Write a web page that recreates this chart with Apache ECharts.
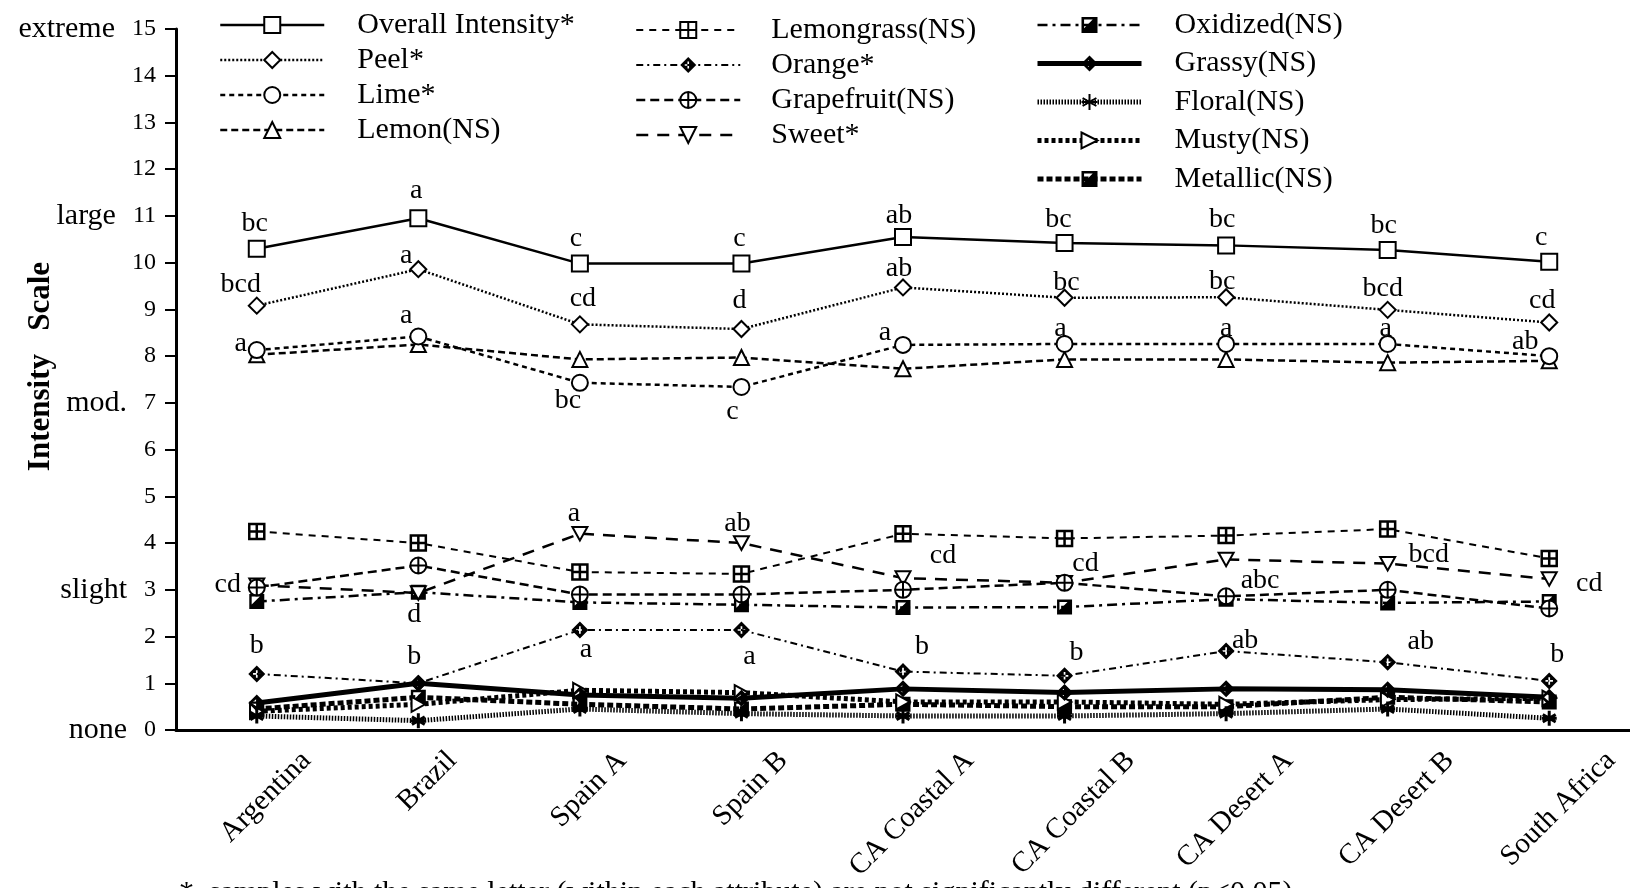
<!DOCTYPE html>
<html><head><meta charset="utf-8">
<script src="https://cdn.jsdelivr.net/npm/echarts@6/dist/echarts.min.js"></script>
<style>html,body{margin:0;padding:0;background:#fff}#c{width:1630px;height:888px}</style>
</head><body><div id="c"></div>
<script>
// ---------- DATA ----------
const categories = ['Argentina','Brazil','Spain A','Spain B','CA Coastal A','CA Coastal B','CA Desert A','CA Desert B','South Africa'];
const overall    = [10.3, 10.95, 9.98, 9.98, 10.55, 10.42, 10.37, 10.27, 10.02];
const peel       = [9.08, 9.86, 8.68, 8.58, 9.47, 9.25, 9.26, 8.99, 8.72];
const lime       = [8.13, 8.42, 7.43, 7.34, 8.24, 8.26, 8.26, 8.26, 8.0];
const lemon      = [8.03, 8.25, 7.93, 7.97, 7.73, 7.93, 7.93, 7.86, 7.9];
const lemongrass = [4.25, 4.0, 3.38, 3.34, 4.2, 4.1, 4.16, 4.3, 3.67];
const orange     = [1.2, 1.0, 2.14, 2.14, 1.25, 1.16, 1.69, 1.45, 1.05];
const grapefruit = [3.05, 3.52, 2.9, 2.9, 3.0, 3.15, 2.86, 3.0, 2.6];
const sweet      = [3.1, 2.93, 4.2, 4.0, 3.25, 3.15, 3.65, 3.56, 3.23];
const oxidized   = [2.75, 2.95, 2.73, 2.68, 2.62, 2.63, 2.8, 2.72, 2.75];
const grassy     = [0.58, 1.0, 0.75, 0.68, 0.88, 0.8, 0.88, 0.86, 0.7];
const floral     = [0.3, 0.2, 0.45, 0.35, 0.3, 0.3, 0.35, 0.45, 0.25];
const musty      = [0.4, 0.55, 0.85, 0.8, 0.6, 0.6, 0.55, 0.65, 0.68];
const metallic   = [0.45, 0.7, 0.55, 0.45, 0.55, 0.5, 0.5, 0.7, 0.6];

// significance letters
const overallLetters = ['bc','a','c','c','ab','bc','bc','bc','c'];
const peelLetters    = ['bcd','a','cd','d','ab','bc','bc','bcd','cd'];
const limeLetters    = ['a','a','bc','c','a','a','a','a','ab'];
const sweetLetters   = ['cd','d','a','ab','cd','cd','abc','bcd','cd'];
const orangeLetters  = ['b','b','a','a','b','b','ab','ab','b'];

// y tick words
const yWordValues = [15, 11, 7, 3, 0];
const yWords = ['extreme', 'large', 'mod.', 'slight', 'none'];

const footnote = '*  samples with the same letter (within each attribute) are not significantly different (p<0.05)';

// ---------- LAYOUT / STYLE (not data) ----------
const overallOff = [[-2,-25],[-2,-28],[-4,-25],[-2,-25],[-4,-21],[-6,-23],[-4,-26],[-4,-24],[-8,-24]];
const peelOff    = [[-16,-21],[-12,-14],[3,-26],[-2,-28],[-4,-19],[2,-15],[-4,-16],[-5,-21],[-7,-22]];
const limeOff    = [[-16,-6],[-12,-21],[-12,18],[-9,25],[-18,-12],[-4,-15],[0,-15],[-2,-15],[-24,-14]];
const sweetOff   = [[-29,0],[-4,22],[-6,-20],[-4,-19],[40,-22],[21,-19],[34,21],[41,-9],[40,5]];
const orangeOff  = [[0,-28],[-4,-27],[6,20],[8,27],[19,-25],[12,-23],[19,-10],[33,-21],[8,-26]];

const FONT = '"Liberation Serif", "Times New Roman", serif';
const BLACK = '#000';

const SYM = {
  sqPlus: 'path://M0,0H10V10H0Z M5,0V10 M0,5H10',
  diaPlus: 'path://M5,0L10,5L5,10L0,5Z M4.5,2.8V4.5H2.8V5.5H4.5V7.2H5.5V5.5H7.2V4.5H5.5V2.8Z',
  circPlus: 'path://M0,5A5,5 0 1,1 10,5A5,5 0 1,1 0,5Z M5,0V10 M0,5H10',
  downTri: 'path://M0,0L10,0L5,9Z',
  halfSq: 'path://M0,0H10V10H0Z M1.6,1.6V7L7,1.6Z',
  halfDia: 'path://M5,0L10,5L5,10L0,5Z M2,5L4.6,7.2L4.6,2.8Z',
  star: 'path://M5,0V10 M0.7,2.5L9.3,7.5 M0.7,7.5L9.3,2.5 M0,5H10',
  rightTri: 'path://M0,0L9,5L0,10Z'
};

const styles = {};
function mkData(values, letters, offs) {
  return values.map((v, i) => {
    if (!letters) return v;
    return { value: v, label: { show: true, formatter: letters[i], offset: offs[i] } };
  });
}

function mkSeries(name, values, o) {
  const lineStyle = { color: BLACK, width: o.width || 2.5, type: o.dash || 'solid' };
  styles[name] = lineStyle;
  return {
    name, type: 'line', data: mkData(values, o.letters, o.offs),
    symbol: o.symbol, symbolSize: o.size || 15, symbolKeepAspect: true,
    showAllSymbol: true,
    lineStyle,
    itemStyle: { color: o.fill || '#fff', borderColor: BLACK, borderWidth: o.bw === undefined ? 2 : o.bw },
    label: { show: false, position: 'inside', color: BLACK, fontFamily: FONT, fontSize: 28 },
    emphasis: { disabled: true },
    z: o.z || 2
  };
}

const series = [
  mkSeries('Metallic(NS)', metallic, { symbol: SYM.halfSq, dash: [6,3], width: 5, fill: BLACK, bw: 0, size: 15 }),
  mkSeries('Musty(NS)', musty, { symbol: SYM.rightTri, dash: [4,3], width: 5, size: 15 }),
  mkSeries('Floral(NS)', floral, { symbol: SYM.star, dash: [1.5,1.5], width: 5, fill: BLACK, bw: 3, size: 15 }),
  mkSeries('Grassy(NS)', grassy, { symbol: SYM.halfDia, width: 5, fill: BLACK, bw: 0, size: 17 }),
  mkSeries('Oxidized(NS)', oxidized, { symbol: SYM.halfSq, dash: [10,5,3,5], width: 2.5, fill: BLACK, bw: 0, size: 15 }),
  mkSeries('Sweet*', sweet, { symbol: SYM.downTri, dash: [12,9], width: 2.5, letters: sweetLetters, offs: sweetOff, size: 15 }),
  mkSeries('Grapefruit(NS)', grapefruit, { symbol: SYM.circPlus, dash: [9,5], width: 2.5, size: 16 }),
  mkSeries('Orange*', orange, { symbol: SYM.diaPlus, dash: [7,4,2,4], width: 2, fill: BLACK, bw: 0, letters: orangeLetters, offs: orangeOff, size: 17 }),
  mkSeries('Lemongrass(NS)', lemongrass, { symbol: SYM.sqPlus, dash: [7,6], width: 2, bw: 2.5, size: 15 }),
  mkSeries('Lemon(NS)', lemon, { symbol: 'triangle', dash: [7,4], width: 2.5, size: 15 }),
  mkSeries('Lime*', lime, { symbol: 'circle', dash: [5,4], width: 2.5, letters: limeLetters, offs: limeOff, size: 16 }),
  mkSeries('Peel*', peel, { symbol: 'diamond', dash: [2,2], width: 2.5, letters: peelLetters, offs: peelOff, size: 16 }),
  mkSeries('Overall Intensity*', overall, { symbol: 'rect', width: 2.5, letters: overallLetters, offs: overallOff, size: 16 })
];

// x label placement: center horizontally on tick, tops aligned
const GRID_LEFT = 176, GRID_TOP = 29, GRID_BOTTOM = 158, H = 888;
const axisY = H - GRID_BOTTOM;
const XFS = 29, xTopY = 748, xShift = 9, xMargin = 10;
const cc = Math.SQRT1_2;
const mctx = document.createElement('canvas').getContext('2d');
mctx.font = XFS + 'px ' + FONT;
const xRich = {};
categories.forEach((cat, i) => {
  const W = mctx.measureText(cat).width, h = XFS * 0.8;
  const cy = xTopY + cc * (W + h) / 2;
  const ya = axisY + xMargin;
  const A = (cy - ya) / cc, B = xShift / cc;
  const u = (B - A) / 2, v = (B + A) / 2;
  xRich['c' + i] = {
    fontSize: XFS, fontFamily: FONT, color: BLACK, lineHeight: XFS,
    padding: [v > 0 ? 2*v : 0, u < 0 ? -2*u : 0, v < 0 ? -2*v : 0, u > 0 ? 2*u : 0]
  };
});

function legendItems(names) {
  return names.map(n => ({ name: n, lineStyle: Object.assign({}, styles[n], { width: Math.min(styles[n].width, 5) }) }));
}
function mkLegend(left, top, gap, pad, names) {
  return {
    orient: 'vertical', left, top, itemGap: gap, itemWidth: 104, itemHeight: 20, selectedMode: false,
    textStyle: { fontFamily: FONT, fontSize: 30, color: BLACK, padding: [0,0,0,pad] },
    data: legendItems(names)
  };
}

const chart = echarts.init(document.getElementById('c'), null, { renderer: 'canvas' });
chart.setOption({
  animation: false,
  backgroundColor: '#fff',
  grid: { left: GRID_LEFT, right: 0, top: GRID_TOP, bottom: GRID_BOTTOM, containLabel: false, outerBoundsMode: 'none' },
  legend: [
    mkLegend(214, 5, 5, 28, ['Overall Intensity*','Peel*','Lime*','Lemon(NS)']),
    mkLegend(630, 10, 5, 26, ['Lemongrass(NS)','Orange*','Grapefruit(NS)','Sweet*']),
    mkLegend(1030, 5, 8.5, 28, ['Oxidized(NS)','Grassy(NS)','Floral(NS)','Musty(NS)','Metallic(NS)'])
  ],
  xAxis: {
    type: 'category', data: categories, boundaryGap: true,
    axisLine: { lineStyle: { color: BLACK, width: 3 } },
    axisTick: { alignWithLabel: true, length: 20, lineStyle: { color: BLACK, width: 2 } },
    axisLabel: {
      interval: 0, rotate: 45, align: 'center', verticalAlign: 'middle', margin: xMargin, hideOverlap: false,
      formatter: (val, idx) => '{c' + idx + '|' + val + '}', rich: xRich
    },
    splitLine: { show: false }
  },
  yAxis: {
    type: 'value', min: 0, max: 15, interval: 1,
    name: 'Intensity   Scale', nameLocation: 'middle', nameGap: 120, nameRotate: 90, nameMoveOverlap: false,
    nameTextStyle: { fontFamily: FONT, fontSize: 31, fontWeight: 'bold', color: BLACK, padding: [0,0,0,26] },
    axisLine: { show: true, lineStyle: { color: BLACK, width: 3 } },
    axisTick: { show: true, length: 11, lineStyle: { color: BLACK, width: 2 } },
    axisLabel: {
      margin: 20, color: BLACK,
      formatter: (v) => {
        const k = yWordValues.indexOf(v);
        return k >= 0 ? '{w|' + yWords[k] + '}{n|' + v + '}' : '{n|' + v + '}';
      },
      rich: {
        w: { fontFamily: FONT, fontSize: 30, color: BLACK, padding: [0, 17, 0, 0] },
        n: { fontFamily: FONT, fontSize: 24, color: BLACK }
      }
    },
    splitLine: { show: false }
  },
  graphic: [{
    type: 'text', left: 179, top: 878,
    style: { text: footnote, font: '30px ' + FONT, fill: BLACK }
  }],
  series
});
</script>
</body></html>
